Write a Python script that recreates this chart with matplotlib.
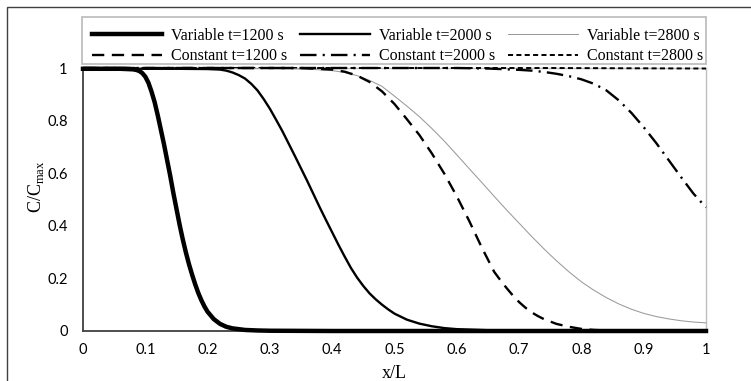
import matplotlib
matplotlib.use("Agg")
import matplotlib.pyplot as plt
from matplotlib.patches import Rectangle

plt.rcParams["mathtext.fontset"] = "custom"
plt.rcParams["mathtext.rm"] = "Liberation Serif"

# Variable t=1200 s
var1200_x = [0, 0.06, 0.07, 0.08, 0.085, 0.09, 0.095, 0.10, 0.105, 0.11, 0.115, 0.12,
             0.125, 0.13, 0.135, 0.14, 0.145, 0.15, 0.155, 0.16, 0.165, 0.17, 0.175,
             0.18, 0.185, 0.19, 0.195, 0.20, 0.21, 0.22, 0.23, 0.24, 0.26, 0.28, 0.30,
             0.40, 1.0]
var1200_y = [0.997, 0.997, 0.996, 0.995, 0.993, 0.989, 0.981, 0.967, 0.944, 0.91, 0.87,
             0.82, 0.765, 0.71, 0.65, 0.59, 0.525, 0.465, 0.405, 0.35, 0.30, 0.255,
             0.215, 0.178, 0.145, 0.117, 0.093, 0.073, 0.045, 0.027, 0.016, 0.01,
             0.004, 0.002, 0.001, 0.0, 0.0]

# Variable t=2000 s
var2000_x = [0, 0.15, 0.20, 0.22, 0.23, 0.24, 0.25, 0.26, 0.27, 0.28, 0.29, 0.30, 0.31,
             0.32, 0.33, 0.34, 0.35, 0.36, 0.37, 0.38, 0.39, 0.40, 0.41, 0.42, 0.43,
             0.44, 0.45, 0.46, 0.47, 0.48, 0.49, 0.50, 0.52, 0.54, 0.56, 0.58, 0.60,
             0.65, 0.70, 1.0]
var2000_y = [0.997, 0.997, 0.996, 0.994, 0.99, 0.983, 0.973, 0.96, 0.94, 0.915, 0.882,
             0.845, 0.803, 0.76, 0.713, 0.666, 0.618, 0.57, 0.52, 0.47, 0.422, 0.375,
             0.328, 0.283, 0.24, 0.203, 0.171, 0.143, 0.12, 0.10, 0.082, 0.066, 0.043,
             0.028, 0.018, 0.011, 0.007, 0.003, 0.001, 0.0]

# Variable t=2800 s
var2800_x = [0, 0.30, 0.36, 0.40, 0.42, 0.44, 0.46, 0.48, 0.50, 0.52, 0.54, 0.56, 0.58,
             0.60, 0.62, 0.64, 0.66, 0.68, 0.70, 0.72, 0.74, 0.76, 0.78, 0.80, 0.82, 0.84,
             0.86, 0.88, 0.90, 0.92, 0.94, 0.96, 0.98, 1.0]
var2800_y = [0.998, 0.998, 0.996, 0.99, 0.983, 0.971, 0.953, 0.93, 0.893, 0.855, 0.815,
             0.77, 0.722, 0.67, 0.617, 0.565, 0.512, 0.46, 0.41, 0.36, 0.312, 0.267,
             0.225, 0.187, 0.155, 0.127, 0.103, 0.083, 0.067, 0.055, 0.046, 0.039,
             0.034, 0.031]

# Constant t=1200 s
con1200_x = [0, 0.35, 0.40, 0.42, 0.44, 0.46, 0.48, 0.50, 0.52, 0.54, 0.56, 0.58, 0.60,
             0.62, 0.64, 0.66, 0.67, 0.68, 0.69, 0.70, 0.71, 0.72, 0.73, 0.74, 0.76,
             0.78, 0.80, 0.82, 0.85, 1.0]
con1200_y = [1.0, 1.0, 0.994, 0.986, 0.971, 0.947, 0.911, 0.863, 0.805, 0.745, 0.675,
             0.598, 0.512, 0.418, 0.318, 0.225, 0.193, 0.163, 0.135, 0.11, 0.089,
             0.071, 0.057, 0.045, 0.027, 0.016, 0.008, 0.004, 0.001, 0.0]

# Constant t=2000 s
con2000_x = [0, 0.60, 0.65, 0.70, 0.72, 0.74, 0.76, 0.78, 0.80, 0.82, 0.84, 0.86, 0.88,
             0.90, 0.92, 0.94, 0.96, 0.98, 1.0]
con2000_y = [1.0, 1.0, 0.998, 0.993, 0.99, 0.985, 0.978, 0.969, 0.957, 0.94, 0.915,
             0.877, 0.83, 0.775, 0.715, 0.65, 0.585, 0.522, 0.47]

# Constant t=2800 s
con2800_x = [0, 0.25, 0.50, 0.75, 1.0]
con2800_y = [1.0, 1.0, 1.0, 1.0, 0.998]

x_ticks = [0, 0.1, 0.2, 0.3, 0.4, 0.5, 0.6, 0.7, 0.8, 0.9, 1]
x_ticklabels = ["0", "0.1", "0.2", "0.3", "0.4", "0.5", "0.6", "0.7", "0.8", "0.9", "1"]
y_ticks = [0, 0.2, 0.4, 0.6, 0.8, 1]
y_ticklabels = ["0", "0.2", "0.4", "0.6", "0.8", "1"]

fig = plt.figure(figsize=(7.51, 3.81), dpi=100)
ax = fig.add_axes([83 / 751, 50 / 381, 623 / 751, 263 / 381])

# outer chart border (only left and top are inside the picture)
fig.patches.append(Rectangle((7 / 751, -0.1), 1.2, (374 / 381) + 0.1,
                             transform=fig.transFigure, fill=False,
                             edgecolor="#404040", linewidth=1.0))

l1, = ax.plot(var1200_x, var1200_y, color="black", lw=3.2, label="Variable t=1200 s",
              clip_on=False, zorder=6)
l2, = ax.plot(var2000_x, var2000_y, color="black", lw=1.7, label="Variable t=2000 s",
              clip_on=False, zorder=5)
l3, = ax.plot(var2800_x, var2800_y, color="#9a9a9a", lw=0.75, label="Variable t=2800 s",
              clip_on=False, zorder=4)
l4, = ax.plot(con1200_x, con1200_y, color="black", lw=1.7, dashes=(5.2, 3.2),
              label="Constant t=1200 s", clip_on=False, zorder=4)
l5, = ax.plot(con2000_x, con2000_y, color="black", lw=1.7, dashes=(7, 2.6, 0.9, 2.6),
              label="Constant t=2000 s", clip_on=False, zorder=4)
l6, = ax.plot(con2800_x, con2800_y, color="black", lw=1.4, dashes=(2.6, 1.7),
              label="Constant t=2800 s", clip_on=False, zorder=3)

ax.set_xlim(0, 1)
ax.set_ylim(0, 1)
ax.set_xticks(x_ticks)
ax.set_xticklabels(x_ticklabels)
ax.set_yticks(y_ticks)
ax.set_yticklabels(y_ticklabels)
ax.tick_params(length=0, labelsize=10.5, colors="black")
ax.tick_params(axis="x", pad=8.5)
ax.tick_params(axis="y", pad=11)
for lab in ax.get_xticklabels() + ax.get_yticklabels():
    lab.set_family("Lato")

for side in ["left", "bottom"]:
    ax.spines[side].set_color("#404040")
    ax.spines[side].set_linewidth(1.3)
for side in ["top", "right"]:
    ax.spines[side].set_color("#bfbfbf")
    ax.spines[side].set_linewidth(1.0)

ax.set_xlabel("x/L", family="Liberation Serif", fontsize=13)
ax.xaxis.set_label_coords(0.5, -0.13)
ax.set_ylabel(r"C/C$_{\mathrm{max}}$", family="Liberation Serif", fontsize=13)
ax.yaxis.set_label_coords(-0.06, 0.55)

# legend frame drawn on its own, entries placed inside it
ax.add_patch(Rectangle((-0.0016, 1.014), 1.0016, 0.181, transform=ax.transAxes,
                       fill=False, edgecolor="#bfbfbf", linewidth=1.3, clip_on=False))
leg = ax.legend(handles=[l1, l4, l2, l5, l3, l6], ncol=3, loc="center left",
                bbox_to_anchor=(0.0144, 0.978, 0.9808, 0.2106), mode="expand",
                prop={"family": "Liberation Serif", "size": 11.5},
                frameon=False, handlelength=4.4, handletextpad=0.55,
                labelspacing=0.28, borderpad=0, borderaxespad=0)

fig.savefig("out.png", dpi=100)
